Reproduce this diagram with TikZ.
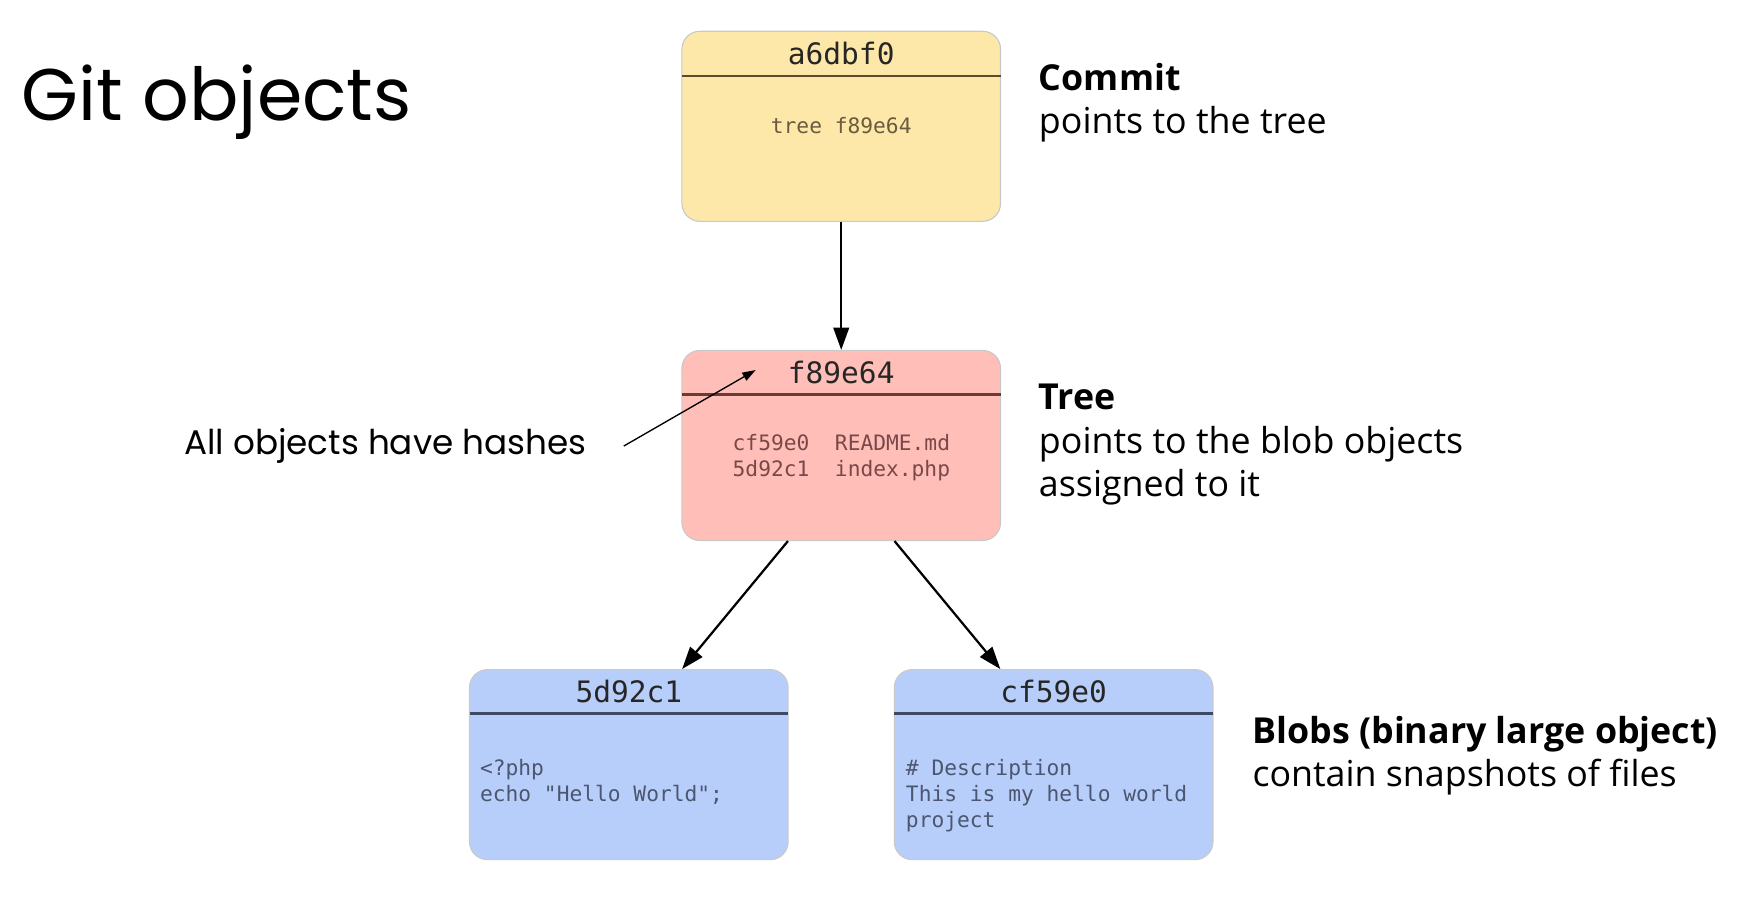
\documentclass[tikz,border=0pt]{standalone}
\usepackage{fontspec}
\setmainfont{Open Sans}
\newfontfamily\titlefont{Poppins}
\setmonofont{DejaVu Sans Mono}
\usetikzlibrary{arrows.meta,calc,positioning}

\definecolor{commitfill}{HTML}{FDE8AA}
\definecolor{commitline}{HTML}{5C4A2E}
\definecolor{committext}{HTML}{6B5B3E}
\definecolor{treefill}{HTML}{FFBFB8}
\definecolor{treeline}{HTML}{6B3B36}
\definecolor{treetext}{HTML}{7A4848}
\definecolor{blobfill}{HTML}{B8CEFA}
\definecolor{blobline}{HTML}{3E4A63}
\definecolor{blobtext}{HTML}{4B5670}
\definecolor{boxborder}{HTML}{C9C9C9}

\tikzset{
	objbox/.style={draw=boxborder,line width=0.5pt,rounded corners=8pt,minimum width=142.5pt,minimum height=85pt,inner sep=0pt},
	hashtext/.style={font=\ttfamily\fontsize{13.2}{15}\selectfont,text=black!85},
	bodytext/.style={font=\ttfamily\fontsize{9.5}{11.6}\selectfont,align=left,inner sep=0pt},
	label/.style={font=\fontsize{16}{19.5}\selectfont,align=left,anchor=west,inner sep=0pt},
	link/.style={line width=1pt,-{Triangle[length=10pt,width=7pt]}},
}

\begin{document}
\begin{tikzpicture}[x=0.5pt,y=-0.5pt]
	
	\useasboundingbox (0,0) rectangle (1569,807);
	
	\node[anchor=west,inner sep=0pt,font=\titlefont\fontsize{32.7}{40}\selectfont] (title) at (19,91) {Git objects};
	
	% commit
	\node[objbox,fill=commitfill] (commit) at (752.5,113) {};
	\draw [commitline,line width=1.2pt] (610,68)--(895,68);
	\node[hashtext] (commithash) at (752.5,48) {a6dbf0};
	\node[bodytext,text=committext] (committree) at (752.5,112) {tree f89e64};
	
	% tree
	\node[objbox,fill=treefill] (tree) at (752.5,398.5) {};
	\draw [treeline,line width=1.2pt] (610,353)--(895,353);
	\node[hashtext] (treehash) at (752.5,333) {f89e64};
	\node[bodytext,text=treetext,anchor=west] (treelist) at (655,409) {cf59e0\ \ README.md\\5d92c1\ \ index.php};
	
	% blobs
	\node[objbox,fill=blobfill] (blobphp) at (562.5,684) {};
	\draw [blobline,line width=1.2pt] (420,638)--(705,638);
	\node[hashtext] (phphash) at (562.5,619) {5d92c1};
	\node[bodytext,text=blobtext,anchor=north west] (phpcode) at (429,679) {<?php\\echo "Hello World";};
	
	\node[objbox,fill=blobfill] (blobmd) at (942.5,684) {};
	\draw [blobline,line width=1.2pt] (800,638)--(1085,638);
	\node[hashtext] (mdhash) at (942.5,619) {cf59e0};
	\node[bodytext,text=blobtext,anchor=north west] (mdcode) at (810,679) {\# Description\\This is my hello world\\project};
	
	% links
	\draw [link] (commit.south)--(tree.north);
	\draw [link] ($(tree.south west)!1/3!(tree.south east)$)--($(blobphp.north west)!2/3!(blobphp.north east)$);
	\draw [link] ($(tree.south west)!2/3!(tree.south east)$)--($(blobmd.north west)!1/3!(blobmd.north east)$);
	
	% hashes note
	\node[anchor=east,inner sep=0pt,font=\titlefont\fontsize{15.3}{18}\selectfont] (hashnote) at (525,399) {All objects have hashes};
	\coordinate (hashpt) at (676,331);
	\draw [line width=0.6pt,-{Triangle[length=6pt,width=4pt]}] ([xshift=16.5pt]hashnote.east)--(hashpt);
	
	% labels
	\node[label] (commitlabel) at (929,92) {\textbf{Commit}\\points to the tree};
	\node[label] (treelabel) at (929,398) {\textbf{Tree}\\points to the blob objects\\assigned to it};
	\node[label] (bloblabel) at (1120,676) {\textbf{Blobs (binary large object)}\\contain snapshots of files};
	
\end{tikzpicture}
\end{document}
